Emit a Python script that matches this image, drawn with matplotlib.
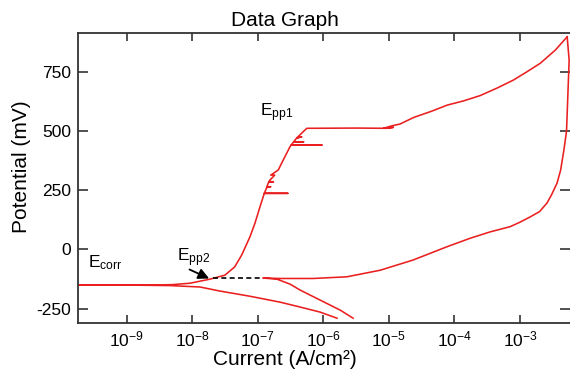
import numpy as np
from matplotlib import pyplot as plt
from matplotlib.ticker import FixedLocator, NullLocator

# values: log10 of current (A/cm2) and potential (mV)
forward_log_i = [-5.79, -6.05, -6.35, -6.66, -7.12, -7.58, -7.88, -8.34, -8.95, -9.74,
                 -9.74, -9.0, -8.64, -8.3, -8.03, -7.73, -7.50, -7.35, -7.244, -7.18,
                 -7.118, -7.041, -6.965, -6.93, -6.899, -6.54, -6.899, -6.86, -6.80, -6.86,
                 -6.83, -6.76, -6.83, -6.812, -6.74, -6.80, -6.685, -6.634, -6.507, -6.49,
                 -6.02, -6.49, -6.45, -6.30, -6.45, -6.405, -6.33, -6.405, -6.278, -6.25,
                 -5.5, -5.03, -4.93, -5.08, -4.96, -4.83, -4.62, -4.35, -4.11, -3.86,
                 -3.61, -3.35, -3.10, -2.90, -2.69, -2.46, -2.28]
forward_e = [-291, -265, -244, -223, -198, -176, -159, -153, -151, -151,
             -151, -151, -151, -149, -143, -126, -109, -74, -24, 15,
             53, 111, 180, 210, 237, 237, 237, 262, 265, 265,
             286, 286, 286, 293, 314, 314, 336, 365, 434, 441,
             441, 441, 455, 455, 455, 471, 476, 471, 505, 512,
             513, 512, 516, 512, 522, 530, 558, 584, 610, 628,
             650, 682, 716, 750, 787, 843, 899]

reverse_log_i = [-2.28, -2.25, -2.27, -2.29, -2.33, -2.38, -2.435, -2.52, -2.588, -2.70,
                 -2.84, -3.0, -3.15, -3.455, -3.76, -4.115, -4.4, -4.63, -5.13, -5.64,
                 -6.156, -6.66, -6.92, -6.705, -6.506, -6.353, -6.05, -5.74, -5.545]
reverse_e = [899, 800, 650, 500, 420, 335, 280, 230, 196, 160,
             138, 115, 96, 74, 47, 11, -20, -45, -88, -116,
             -123, -123, -121, -126, -147, -172, -214, -257, -291]

# extrapolated line to E_pp2
dash_log_i = [-7.68, -6.92]
dash_e = [-123, -123]

x_ticks = [1e-9, 1e-8, 1e-7, 1e-6, 1e-5, 1e-4, 1e-3]
x_tick_labels = ['10$^{-9}$', '10$^{-8}$', '10$^{-7}$', '10$^{-6}$',
                 '10$^{-5}$', '10$^{-4}$', '10$^{-3}$']
y_ticks = [-250, 0, 250, 500, 750]
y_tick_labels = ['-250', '0', '250', '500', '750']


def main():
    plt.rcParams['font.family'] = ['Liberation Sans', 'DejaVu Sans']
    plt.rcParams['mathtext.fontset'] = 'custom'
    plt.rcParams['mathtext.rm'] = 'Liberation Sans'
    plt.rcParams['mathtext.default'] = 'rm'
    plt.rcParams['axes.unicode_minus'] = False

    fig = plt.figure(figsize=(5.7, 3.72), dpi=100)
    ax = fig.add_axes([78 / 570, 1 - 322.7 / 372, 1 - 78 / 570, (322.7 - 33) / 372])

    red = '#ea1f1f'
    ax.plot(10 ** np.array(forward_log_i), forward_e, color=red, lw=1.15)
    ax.plot(10 ** np.array(reverse_log_i), reverse_e, color=red, lw=1.15)
    ax.plot(10 ** np.array(dash_log_i), dash_e, color='black', lw=1.2, ls=(0, (3, 2)))

    ax.set_xscale('log')
    ax.set_xlim(10 ** -9.74, 10 ** -2.237)
    ax.set_ylim(-310, 915)
    ax.xaxis.set_major_locator(FixedLocator(x_ticks))
    ax.xaxis.set_minor_locator(NullLocator())
    ax.set_xticklabels(x_tick_labels)
    ax.set_yticks(y_ticks)
    ax.set_yticklabels(y_tick_labels)

    ax.tick_params(direction='in', top=True, right=True, labelsize=12.5,
                   width=1.1, color='#222222', pad=5)
    ax.tick_params(axis='y', length=7.5)
    ax.tick_params(axis='x', length=6)
    for s in ax.spines.values():
        s.set_linewidth(1.3)
        s.set_color('#333333')
    # the right edge is cut off in the original picture
    ax.spines['right'].set_visible(False)

    ax.annotate('', xy=(10 ** -7.74, -123), xytext=(10 ** -8.04, -85),
                arrowprops=dict(arrowstyle='-|>', color='black', lw=1.3,
                                mutation_scale=16, shrinkA=0, shrinkB=0))
    ax.text(10 ** -9.59, -76, 'E$_{corr}$', fontsize=12.5, va='baseline')
    ax.text(10 ** -8.237, -52, 'E$_{pp2}$', fontsize=12.5, va='baseline')
    ax.text(10 ** -6.965, 561, 'E$_{pp1}$', fontsize=12.5, va='baseline')

    fig.text(0.5, 1 - 26 / 372, 'Data Graph', fontsize=15, ha='center', va='baseline')
    fig.text(0.5, 1 - 365 / 372, 'Current (A/cm²)', fontsize=15, ha='center', va='baseline')
    fig.text(22 / 570, 1 - 167 / 372, 'Potential (mV)', fontsize=15, rotation=90,
             ha='center', va='center')

    fig.savefig('out.png', dpi=100)


if __name__ == "__main__":
    main()
